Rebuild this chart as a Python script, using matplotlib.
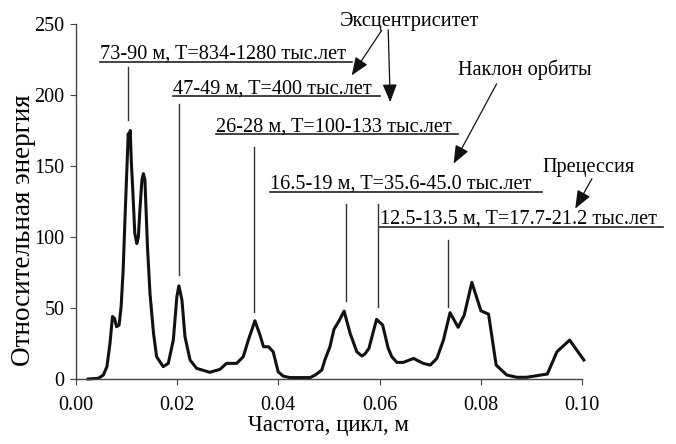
import numpy as np
import matplotlib
matplotlib.use("Agg")
import matplotlib.pyplot as plt

plt.rcParams['font.family'] = ['Liberation Serif', 'DejaVu Serif']

# спектр (частота, цикл/м -> относительная энергия)
freq = [0.0025, 0.0045, 0.0055, 0.0062, 0.0068, 0.0073, 0.0077, 0.0081, 0.0086, 0.0090,
        0.0094, 0.0098, 0.0101, 0.0104, 0.0106, 0.0108, 0.0110, 0.0113, 0.0117, 0.0121,
        0.0124, 0.0127, 0.0131, 0.0134, 0.0137, 0.0139, 0.0142, 0.0147, 0.0154, 0.0160,
        0.0173, 0.0183, 0.0193, 0.0200, 0.0204, 0.0210, 0.0216, 0.0226, 0.0239, 0.0265,
        0.0285, 0.0298, 0.0318, 0.0331, 0.0341, 0.0354, 0.0364, 0.0371, 0.0381, 0.0390,
        0.0400, 0.0410, 0.0423, 0.0463, 0.0473, 0.0486, 0.0492, 0.0502, 0.0510, 0.0519,
        0.0530, 0.0542, 0.0555, 0.0565, 0.0571, 0.0579, 0.0594, 0.0606, 0.0617, 0.0624,
        0.0634, 0.0647, 0.0667, 0.0686, 0.0700, 0.0713, 0.0726, 0.0739, 0.0755, 0.0767,
        0.0782, 0.0800, 0.0815, 0.0830, 0.0851, 0.0871, 0.0890, 0.0931, 0.0950, 0.0975,
        0.1003]
energy = [0, 0.5, 2.8, 8.7, 25, 44, 42.6, 36.8, 38, 51,
          76.6, 116.5, 144.6, 172.7, 168, 175, 154, 133, 102.5, 95.4,
          100, 118.8, 140, 144.6, 140, 121, 93, 60, 32, 15.7,
          8.7, 11, 27.4, 58, 65.6, 55.6, 29.8, 13.4, 7.5, 4.7,
          6.8, 11, 11, 15.7, 27.4, 41, 31, 22.7, 22.7, 19.2,
          5, 2, 1, 1, 2.8, 6.3, 13.4, 22.7, 35, 40.3,
          47.8, 32, 19.2, 16.2, 17.6, 21.6, 42, 38, 21.6, 15.7,
          11.7, 11.7, 14.5, 11, 9.8, 14.5, 27.4, 46.7, 36.4, 45,
          68, 48, 45.7, 9.8, 2.8, 1.2, 1.2, 3.5, 19.2, 27.4,
          13.4]

# подписи периодов: текст, x начала, y подчёркивания, x конца подчёркивания
period_labels = ["73-90 м, T=834-1280 тыс.лет",
                 "47-49 м, T=400 тыс.лет",
                 "26-28 м, T=100-133 тыс.лет",
                 "16.5-19 м, T=35.6-45.0 тыс.лет",
                 "12.5-13.5 м, T=17.7-21.2 тыс.лет"]
label_x = [0.00484, 0.0193, 0.0277, 0.0384, 0.0600]
label_y = [223.3, 199.0, 172.3, 131.7, 107.2]
label_end = [0.0546, 0.0601, 0.0755, 0.0920, 0.1159]

# вертикальные выноски к пикам: x, верх, низ
peak_x = [0.0103, 0.0204, 0.0353, 0.0533, 0.0596, 0.0735]
peak_top = [219.6, 193.4, 163.4, 123.1, 123.1, 97.7]
peak_bottom = [182.1, 73.1, 47.3, 55.1, 50.8, 50.8]

# названия циклов и стрелки
cycle_names = ["Эксцентриситет", "Наклон орбиты", "Прецессия"]
cycle_x = [0.0522, 0.0755, 0.0922]
cycle_y = [248.9, 213.8, 145.8]
arrows = [((0.0604, 245.4), (0.0545, 213.8)),
          ((0.0617, 245.9), (0.0621, 195.0)),
          ((0.0831, 207.9), (0.0746, 151.7)),
          ((0.1019, 141.1), (0.0986, 120.0))]

fig = plt.figure(figsize=(6.76, 4.44), dpi=100)
ax = fig.add_axes([0.1117, 0.1464, 0.7497, 0.7995])

ax.plot(freq, energy, color="#111111", lw=2.2, clip_on=False)

ax.set_xlim(0, 0.1)
ax.set_ylim(0, 250)
ax.set_xticks(np.arange(0, 0.101, 0.02))
ax.set_xticklabels(["0.00", "0.02", "0.04", "0.06", "0.08", "0.10"])
ax.set_yticks(range(0, 251, 50))
for s in ["top", "right"]:
    ax.spines[s].set_visible(False)
for s in ["left", "bottom"]:
    ax.spines[s].set_color("#444444")
    ax.spines[s].set_linewidth(1)
ax.tick_params(labelsize=14.5, length=4.5, color="#444444")
ax.tick_params(axis="x", pad=8)
ax.tick_params(axis="y", pad=3.5)

ax.set_xlabel("Частота, цикл, м", fontsize=16.5, labelpad=0)
ax.set_ylabel("Относительная энергия", fontsize=19.5)
ax.yaxis.set_label_coords(-0.078, 0.42)

for txt, x0, y0, x1 in zip(period_labels, label_x, label_y, label_end):
    ax.text(x0, y0 + 2.2, txt, fontsize=14.6, ha="left", va="baseline", clip_on=False)
    ax.plot([x0, x1], [y0, y0], color="#222222", lw=1.2, clip_on=False)

for x, y0, y1 in zip(peak_x, peak_top, peak_bottom):
    ax.plot([x, x], [y0, y1], color="#333333", lw=1, clip_on=False)

for name, x, y in zip(cycle_names, cycle_x, cycle_y):
    ax.text(x, y, name, fontsize=14.6, ha="left", va="baseline", clip_on=False)

for start, tip in arrows:
    ax.annotate("", xy=tip, xytext=start, annotation_clip=False,
                arrowprops=dict(arrowstyle="-|>,head_length=0.55,head_width=0.22",
                                mutation_scale=20, lw=0.9, color="#111111",
                                shrinkA=0, shrinkB=0))

fig.savefig("out.png", dpi=100)
